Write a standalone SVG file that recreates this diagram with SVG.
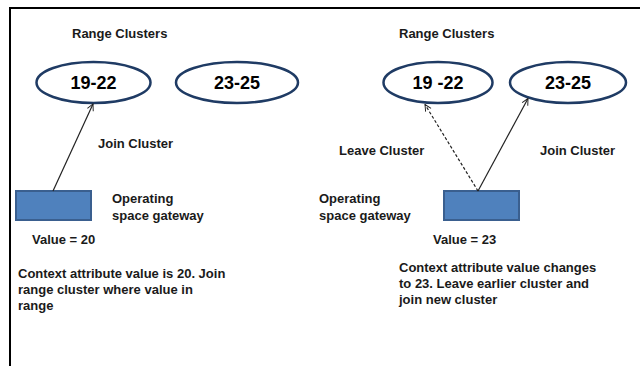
<svg xmlns="http://www.w3.org/2000/svg" width="640" height="366" viewBox="0 0 640 366">
  <defs>
    <style>
      .t { font-family: "Liberation Sans", Arial, sans-serif; font-weight: bold; font-size: 13px; fill: #1a1a1a; }
      .num { font-family: "Liberation Sans", Arial, sans-serif; font-weight: bold; font-size: 18px; fill: #000; text-anchor: middle; }
      .cluster { fill: #fff; stroke: #1f3b64; stroke-width: 2.5; }
      .gw { fill: #4f81bd; stroke: #3a5f8f; stroke-width: 2; }
      .link { fill: none; stroke: #222; stroke-width: 1.2; }
      .dash { stroke-dasharray: 3 2; }
    </style>
    <marker id="open" viewBox="0 0 10 10" refX="9" refY="5" markerWidth="8" markerHeight="8" orient="auto" markerUnits="userSpaceOnUse">
      <path d="M1,1 L9,5 L1,9" fill="none" stroke="#222" stroke-width="1.2"/>
    </marker>
  </defs>

  <rect width="640" height="366" fill="#fff"/>
  <!-- frame -->
  <path d="M10,366 V8 H640" fill="none" stroke="#000" stroke-width="2"/>

  <!-- left scenario -->
  <text class="t" x="72" y="38">Range Clusters</text>
  <g id="cluster-19-22-a">
    <ellipse class="cluster" cx="93.5" cy="82.5" rx="57" ry="20.5"/>
    <text class="num" x="93.5" y="89">19-22</text>
  </g>
  <g id="cluster-23-25-a">
    <ellipse class="cluster" cx="237" cy="82.5" rx="61" ry="20.5"/>
    <text class="num" x="237" y="89">23-25</text>
  </g>
  <g id="gateway-a">
    <rect class="gw" x="16" y="191" width="75" height="29"/>
  </g>
  <text class="t" x="98" y="148">Join Cluster</text>
  <text class="t" x="112" y="203">Operating</text>
  <text class="t" x="112" y="220">space gateway</text>
  <text class="t" x="32" y="244">Value = 20</text>
  <text class="t" x="18" y="278">Context attribute value is 20. Join</text>
  <text class="t" x="18" y="294">range cluster where value in</text>
  <text class="t" x="18" y="310">range</text>

  <!-- right scenario -->
  <text class="t" x="399" y="38">Range Clusters</text>
  <g id="cluster-19-22-b">
    <ellipse class="cluster" cx="438" cy="82.5" rx="54.5" ry="20.5"/>
    <text class="num" x="438" y="89">19 -22</text>
  </g>
  <g id="cluster-23-25-b">
    <ellipse class="cluster" cx="568" cy="82.5" rx="58" ry="20.5"/>
    <text class="num" x="568" y="89">23-25</text>
  </g>
  <g id="gateway-b">
    <rect class="gw" x="444" y="191" width="75" height="29"/>
  </g>
  <text class="t" x="339" y="155">Leave Cluster</text>
  <text class="t" x="540" y="155">Join Cluster</text>
  <text class="t" x="319" y="203">Operating</text>
  <text class="t" x="319" y="220">space gateway</text>
  <text class="t" x="433" y="244">Value = 23</text>
  <text class="t" x="399" y="272">Context attribute value changes</text>
  <text class="t" x="399" y="288">to 23. Leave earlier cluster and</text>
  <text class="t" x="399" y="304">join new cluster</text>

  <!-- connectors -->
  <g id="connectors">
    <line class="link" x1="53" y1="191" x2="93" y2="104" marker-end="url(#open)"/>
    <line class="link dash" x1="478" y1="191" x2="425" y2="104.5" marker-end="url(#open)"/>
    <line class="link" x1="478" y1="191" x2="528" y2="98.5" marker-end="url(#open)"/>
  </g>
</svg>
